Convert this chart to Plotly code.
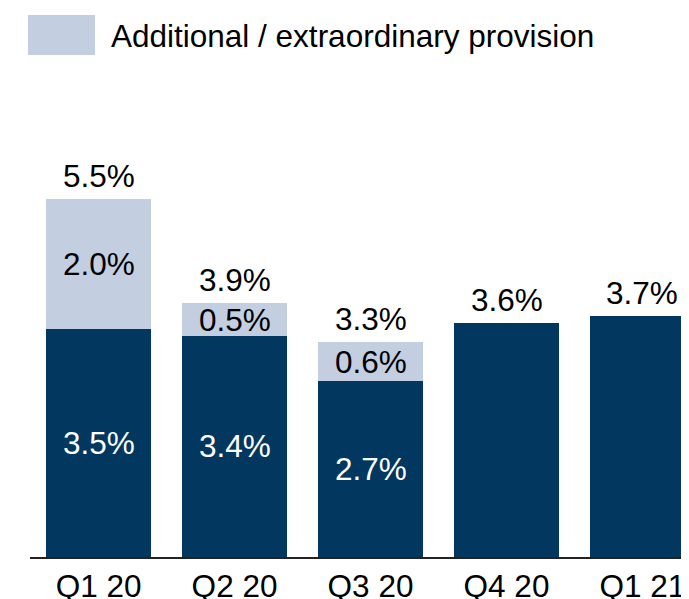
import plotly.graph_objects as go

quarters = ["Q1 20", "Q2 20", "Q3 20", "Q4 20", "Q1 21"]
underlying = [3.5, 3.4, 2.7, 3.6, 3.7]
additional = [2.0, 0.5, 0.6, 0.0, 0.0]
legend_label = "Additional / extraordinary provision"

DARK = "#02375F"
LIGHT = "#C3CEE0"
FONT = "Liberation Sans, Arial, sans-serif"
FS = 31.5

fig = go.Figure()
fig.add_bar(x=quarters, y=underlying, marker_color=DARK, marker_line_width=0,
            width=0.77, showlegend=False, hoverinfo="skip")
fig.add_bar(x=quarters, y=additional, marker_color=LIGHT, marker_line_width=0,
            width=0.77, showlegend=False, hoverinfo="skip")

annotations = []
for q, u, a in zip(quarters, underlying, additional):
    total = u + a
    annotations.append(dict(x=q, y=total, text=f"{total:.1f}%", showarrow=False,
                            yanchor="bottom", yshift=3,
                            font=dict(size=FS, color="black", family=FONT)))
    if a > 0:
        annotations.append(dict(x=q, y=u / 2, text=f"{u:.1f}%", showarrow=False,
                                yanchor="middle",
                                font=dict(size=FS, color="white", family=FONT)))
        annotations.append(dict(x=q, y=u + a / 2, text=f"{a:.1f}%", showarrow=False,
                                yanchor="middle",
                                font=dict(size=FS, color="black", family=FONT)))

annotations.append(dict(xref="paper", yref="paper", x=0.1199, y=1.0922,
                        xanchor="left", yanchor="middle", text=legend_label,
                        showarrow=False, font=dict(size=FS, color="black", family=FONT)))

fig.update_layout(
    width=681, height=591,
    margin=dict(l=22, r=0, t=72, b=42, autoexpand=False),
    barmode="stack",
    paper_bgcolor="white", plot_bgcolor="white",
    font=dict(family=FONT, size=FS, color="black"),
    xaxis=dict(range=[-0.504, 4.342], showline=True, linecolor="#222222", linewidth=2,
               ticks="", showgrid=False, zeroline=False, ticklabelstandoff=0,
               automargin=False,
               tickfont=dict(size=FS, color="black", family=FONT)),
    yaxis=dict(range=[0, 7.338], visible=False, showgrid=False, zeroline=False,
               automargin=False),
    annotations=annotations,
    shapes=[dict(type="rect", xref="paper", yref="paper",
                 x0=-0.003, x1=0.0986, y0=1.0524, y1=1.1363,
                 fillcolor=LIGHT, line=dict(width=0))],
)

fig.write_html("out.html")
